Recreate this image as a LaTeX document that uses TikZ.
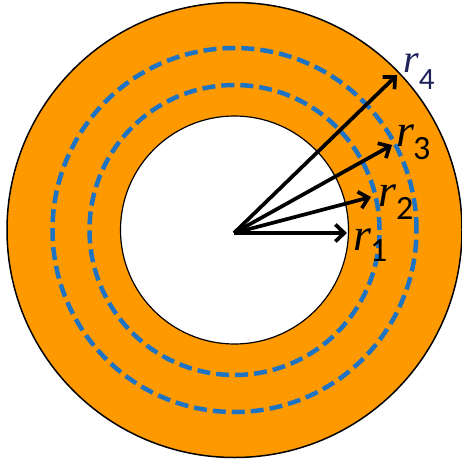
\documentclass[tikz,border=0pt]{standalone}
\usepackage{fontspec}
\newfontfamily\lblr{Liberation Serif}
\newfontfamily\lbld{Carlito}
\usetikzlibrary{arrows.meta}
\definecolor{ring}{RGB}{255,153,0}
\definecolor{dashblue}{RGB}{30,115,195}
\definecolor{navy}{RGB}{30,35,90}
\newcommand{\rlab}[5]{{\lblr\itshape\fontsize{#1}{#1}\selectfont r}\kern#3\raisebox{#4}{\lbld\fontsize{#2}{#2}\selectfont #5}}
\begin{document}
\begin{tikzpicture}[x=1pt,y=1pt,
  arr/.style={line width=3.7pt,-{Straight Barb[length=9pt,width=17pt]}},
  dashc/.style={dashblue,line width=4.5pt,dash pattern=on 13pt off 6pt},
  lbl/.style={anchor=base west,inner sep=0pt}]
\useasboundingbox (0,0) rectangle (462,459);
\fill[white] (0,0) rectangle (462,459);
\coordinate (c) at (234.5,229);
\fill[ring,even odd rule] (c) circle (227.5) (c) circle (114);
\draw[line width=1.5pt] (c) circle (227.5);
\draw[line width=1.2pt] (c) circle (114);
\draw[dashc] (c) circle (182);
\draw[dashc] (c) circle (145);
\coordinate (o) at (234,226);
\coordinate (t1) at (347,226);
\coordinate (t2) at (371,262);
\coordinate (t3) at (392,314);
\coordinate (t4) at (397,384);
\draw[arr] (o) -- (t1);
\draw[arr] (o) -- (t2);
\draw[arr] (o) -- (t3);
\draw[arr] (o) -- (t4);
\node[lbl] (r1) at (353,209) {\rlab{46}{34}{-1pt}{-11pt}{1}};
\node[lbl] (r2) at (378,253) {\rlab{46}{34}{0pt}{-13pt}{2}};
\node[lbl] (r3) at (396,313) {\rlab{46}{34}{-1pt}{-13pt}{3}};
\node[lbl,navy] (r4) at (403,387) {\rlab{40}{31}{0pt}{-17pt}{4}};
\end{tikzpicture}
\end{document}
